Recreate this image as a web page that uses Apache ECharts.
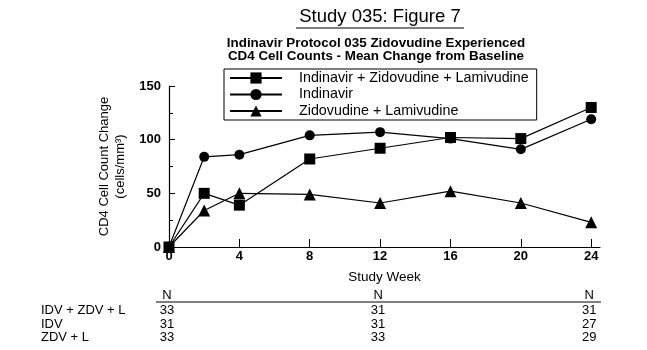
<!DOCTYPE html>
<html>
<head>
<meta charset="utf-8">
<script src="https://cdn.jsdelivr.net/npm/echarts@6/dist/echarts.min.js"></script>
<style>
  html, body { margin: 0; padding: 0; background: #fff; }
  #myChart { width: 647px; height: 350px; }
</style>
</head>
<body>
<div id="myChart"></div>
<script>
// study weeks (x axis)
var weeks = [0, 2, 4, 8, 12, 16, 20, 24]
// mean change from baseline, cells/mm3
var idvZdvL = [0, 50, 39, 82, 92, 102, 101, 130]
var idv = [0, 84, 86, 104, 107, 101, 91, 119]
var zdvL = [0, 34, 50, 49, 41, 52, 41, 23]
var seriesNames = ['Indinavir + Zidovudine + Lamivudine', 'Indinavir', 'Zidovudine + Lamivudine']
var xTicks = [0, 4, 8, 12, 16, 20, 24]

// N table under the chart
var nWeeks = [0, 12, 24]
var nRowNames = ['IDV + ZDV + L', 'IDV', 'ZDV + L']
var nIdvZdvL = [33, 31, 31]
var nIdv = [31, 31, 27]
var nZdvL = [33, 33, 29]

var FONT = "'Liberation Sans', Arial, sans-serif"

function pairs(ys) {
  return weeks.map(function (w, i) { return [w, ys[i]] })
}

var myChart = echarts.init(document.getElementById('myChart'))

var lineBase = {
  type: 'line',
  lineStyle: { color: '#000', width: 1.2 },
  itemStyle: { color: '#000' },
  animation: false,
}

var option = {
  backgroundColor: '#fff',
  animation: false,
  legend: {
    left: 224,
    top: 69,
    orient: 'vertical',
    padding: [2, 8, 2, 5],
    itemWidth: 52,
    itemHeight: 14,
    itemGap: 2.5,
    borderColor: '#000',
    borderWidth: 1,
    textStyle: { fontFamily: FONT, fontSize: 14.3, color: '#000', padding: [0, 0, 0, 12] },
    data: seriesNames,
  },
  grid: { left: 169, top: 86, right: 47, bottom: 103 },
  xAxis: {
    type: 'value',
    min: 0,
    max: 24.5,
    interval: 4,
    name: 'Study Week',
    nameLocation: 'middle',
    nameGap: 23,
    nameTextStyle: { fontFamily: FONT, fontSize: 13.5, color: '#000' },
    axisLine: { lineStyle: { color: '#000', width: 1.2 } },
    axisTick: { inside: true, length: 8, lineStyle: { color: '#000' }, customValues: xTicks },
    axisLabel: { color: '#000', fontFamily: FONT, fontSize: 13, fontWeight: 'bold', margin: 3, customValues: xTicks },
    splitLine: { show: false },
  },
  yAxis: {
    type: 'value',
    min: 0,
    max: 150,
    interval: 50,
    name: 'CD4 Cell Count Change\n(cells/mm³)',
    nameLocation: 'middle',
    nameRotate: 90,
    nameGap: 35,
    nameTextStyle: { fontFamily: FONT, fontSize: 13, color: '#000', lineHeight: 16 },
    axisLine: { show: true, lineStyle: { color: '#000', width: 1.2 } },
    axisTick: { show: true, inside: true, length: 6, lineStyle: { color: '#000' } },
    minorTick: { show: true, splitNumber: 2, length: 4, lineStyle: { color: '#000' } },
    axisLabel: { color: '#000', fontFamily: FONT, fontSize: 13, fontWeight: 'bold', margin: 8 },
    splitLine: { show: false },
  },
  series: [
    Object.assign({}, lineBase, { name: seriesNames[0], symbol: 'rect', symbolSize: 11, data: pairs(idvZdvL) }),
    Object.assign({}, lineBase, { name: seriesNames[1], symbol: 'circle', symbolSize: 10, data: pairs(idv) }),
    Object.assign({}, lineBase, { name: seriesNames[2], symbol: 'triangle', symbolSize: 12, data: pairs(zdvL) }),
  ],
}
myChart.setOption(option, true)

// titles, title underline, N table and its rule
function txt(x, y, text, size, weight, align) {
  return {
    type: 'text', x: x, y: y,
    style: {
      text: text, fill: '#000', fontFamily: FONT, fontSize: size,
      fontWeight: weight || 'normal', align: align || 'center', verticalAlign: 'middle',
    },
  }
}
var graphic = [
  txt(380, 17, 'Study 035: Figure 7', 18.5),
  { type: 'line', shape: { x1: 296, y1: 28, x2: 464, y2: 28 }, style: { stroke: '#000', lineWidth: 1.2 } },
  txt(376, 43, 'Indinavir Protocol 035 Zidovudine Experienced', 13.4, 'bold'),
  txt(376, 56, 'CD4 Cell Counts - Mean Change from Baseline', 13.4, 'bold'),
  { type: 'line', shape: { x1: 156, y1: 302, x2: 601, y2: 302 }, style: { stroke: '#000', lineWidth: 1.2 } },
]
var rowY = [310, 324, 337]
var rowVals = [nIdvZdvL, nIdv, nZdvL]
nRowNames.forEach(function (name, r) {
  graphic.push(txt(41, rowY[r], name, 13, 'normal', 'left'))
})
nWeeks.forEach(function (w, c) {
  var px = myChart.convertToPixel({ xAxisIndex: 0 }, w) - 2
  graphic.push(txt(px, 295, 'N', 13))
  rowVals.forEach(function (vals, r) {
    graphic.push(txt(px, rowY[r], String(vals[c]), 13))
  })
})
myChart.setOption({ graphic: graphic })
</script>
</body>
</html>
